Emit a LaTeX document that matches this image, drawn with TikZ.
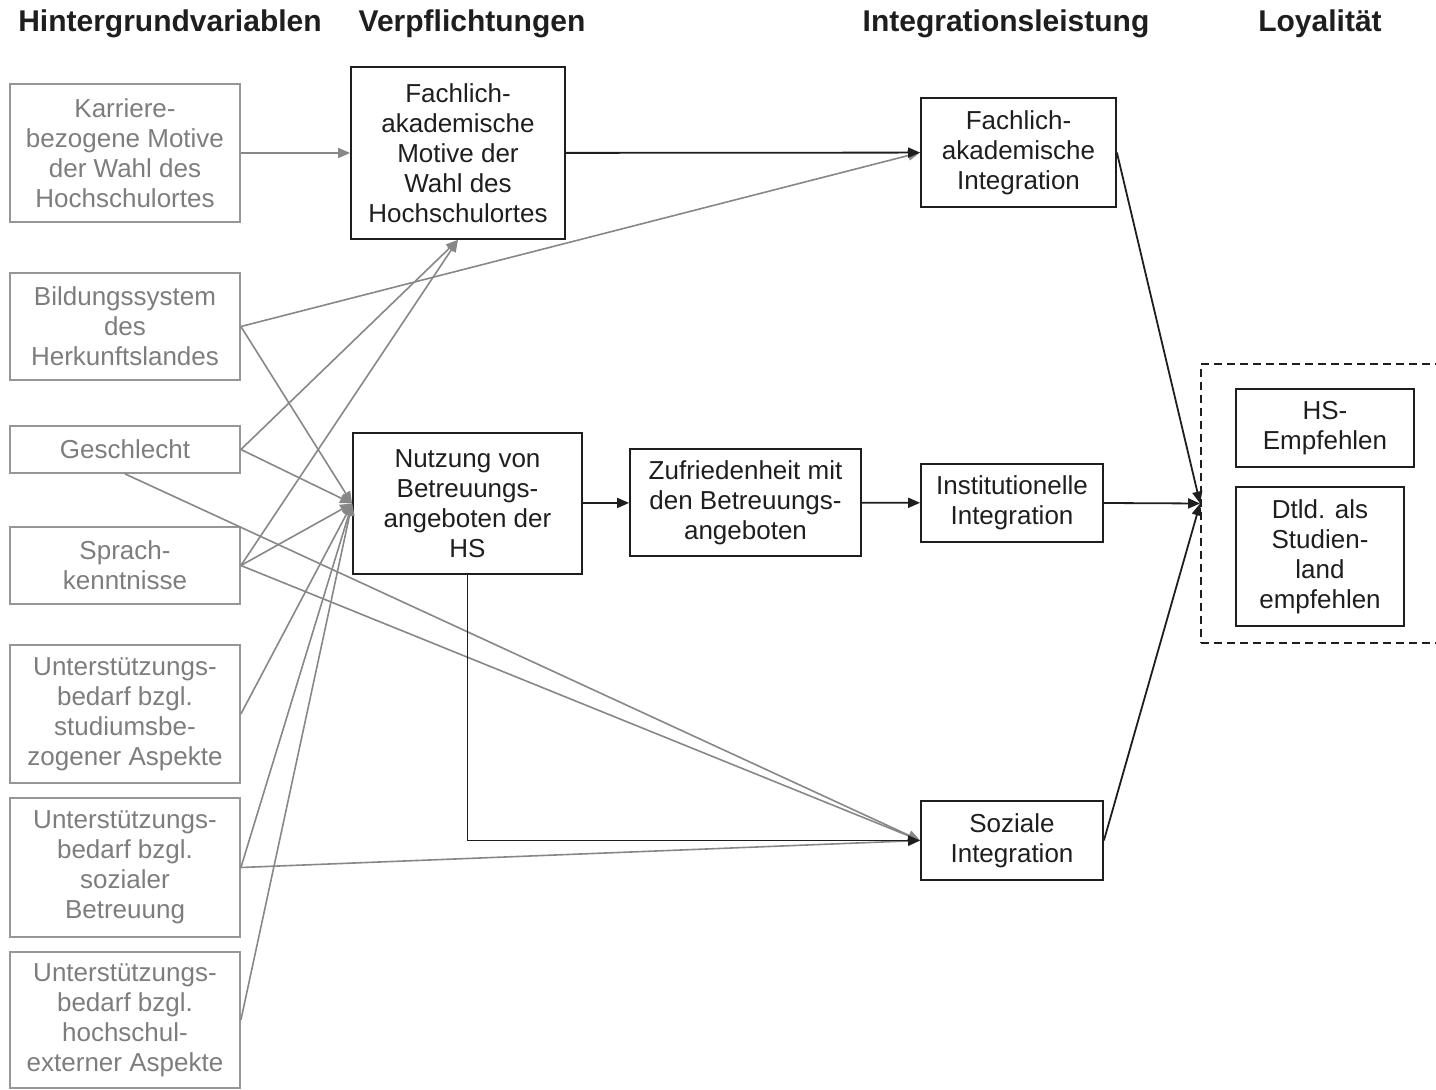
\documentclass[tikz,border=0pt]{standalone}
\usepackage{fontspec}
\setmainfont{Liberation Sans}
\usetikzlibrary{arrows.meta}
\definecolor{boxgrey}{RGB}{150,150,150}
\definecolor{textgrey}{RGB}{125,125,125}
\definecolor{linegrey}{RGB}{135,135,135}
\definecolor{dark}{RGB}{30,30,30}

\begin{document}
\begin{tikzpicture}[x=0.5pt, y=-0.5pt, font=\fontsize{13}{15}\selectfont,
  hv/.style={draw=boxgrey, text=textgrey, line width=0.9pt, align=center, inner sep=0pt, minimum width=115pt},
  box/.style={draw=dark, text=dark, line width=0.9pt, align=center, inner sep=0pt},
  head/.style={font=\fontsize{15}{18}\selectfont\bfseries, text=dark, anchor=base},
  g/.style={draw=linegrey, line width=0.8pt, -{Triangle[length=6pt,width=5pt]}},
  b/.style={draw=dark, line width=0.9pt, -{Triangle[length=6pt,width=5pt]}}]
\useasboundingbox (0,0) rectangle (1436,1090);
% headings
\node (h1)[head] at (170,32) {Hintergrundvariablen};
\node (h2)[head] at (472,32) {Verpflichtungen};
\node (h3)[head] at (1006,32) {Integrationsleistung};
\node (h4)[head] at (1320,32) {Loyalität};
% background variables
\node (1)[hv, minimum height=69pt] at (125,153) {Karriere-\\bezogene Motive\\der Wahl des\\Hochschulortes};
\node (2)[hv, minimum height=53.5pt] at (125,326.5) {Bildungssystem\\des\\Herkunftslandes};
\node (3)[hv, minimum height=23.5pt] at (125,449.5) {Geschlecht};
\node (4)[hv, minimum height=38.5pt] at (125,565.5) {Sprach-\\kenntnisse};
\node (5)[hv, minimum height=69pt] at (125,714) {Unterstützungs-\\bedarf bzgl.\\studiumsbe-\\zogener Aspekte};
\node (6)[hv, minimum height=69.5pt] at (125,867.5) {Unterstützungs-\\bedarf bzgl.\\sozialer\\Betreuung};
\node (7)[hv, minimum height=68pt] at (125,1020) {Unterstützungs-\\bedarf bzgl.\\hochschul-\\externer Aspekte};
% commitments and integration
\node (8)[box, minimum width=107pt, minimum height=86pt] at (458,153) {Fachlich-\\akademische\\Motive der\\Wahl des\\Hochschulortes};
\node (9)[box, minimum width=114.5pt, minimum height=70.5pt] at (467.5,503.5) {Nutzung von\\Betreuungs-\\angeboten der\\HS};
\node (10)[box, minimum width=115.5pt, minimum height=53.5pt] at (745.5,502.5) {Zufriedenheit mit\\den Betreuungs-\\angeboten};
\node (11)[box, minimum width=97.5pt, minimum height=54.5pt] at (1018.5,152.5) {Fachlich-\\akademische\\Integration};
\node (12)[box, minimum width=91pt, minimum height=39pt] at (1012,503) {Institutionelle\\Integration};
\node (13)[box, minimum width=91pt, minimum height=39.5pt] at (1012,840.5) {Soziale\\Integration};
% loyalty
\node (14)[draw=dark, dash pattern=on 4pt off 2.5pt, line width=0.9pt, minimum width=124pt, minimum height=139.5pt] at (1325,503.5) {};
\node (15)[box, minimum width=89pt, minimum height=39pt] at (1325,428) {HS-\\Empfehlen};
\node (16)[box, minimum width=84pt, minimum height=69.5pt] at (1320,556.5) {Dtld. als\\Studien-\\land\\empfehlen};
% grey paths
\draw[g] (1) -- (8);
\draw[g] (2.east) -- (11.west);
\draw[g] (2.east) -- (9.west);
\draw[g] (3.east) -- (8.south);
\draw[g] (3.east) -- (9.west);
\draw[g] (3.south) -- (13.west);
\draw[g] (4.east) -- (8.south);
\draw[g] (4.east) -- (9.west);
\draw[g] (4.east) -- (13.west);
\draw[g] (5.east) -- (9.west);
\draw[g] (6.east) -- (9.west);
\draw[g] (6.east) -- (13.west);
\draw[g] (7.east) -- (9.west);
% black paths
\draw[b] (8) -- (11);
\draw[b] (9) -- (10);
\draw[b] (10) -- (12);
\draw[b] (9.south) |- (13.west);
\draw[b] (11.east) -- (14.west);
\draw[b] (12.east) -- (14.west);
\draw[b] (13.east) -- (14.west);
\end{tikzpicture}
\end{document}
